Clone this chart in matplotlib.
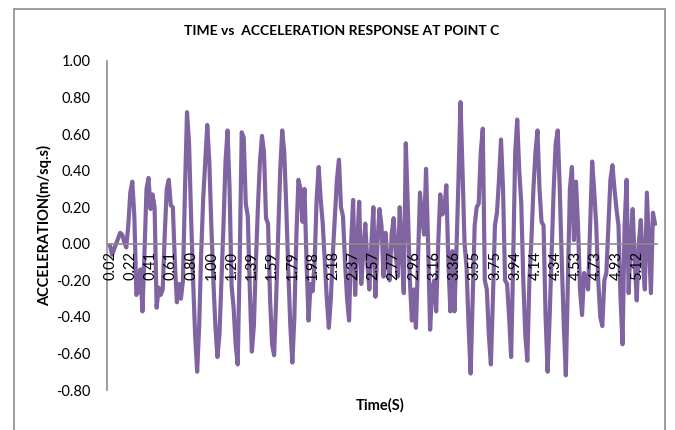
import matplotlib
matplotlib.use("Agg")
import matplotlib.pyplot as plt
from matplotlib.patches import Rectangle

# acceleration values, one per time step (0.02 s ... ~5.2 s)
accel = [
    -0.01, -0.06, -0.03, 0.00, 0.03, 0.06, 0.05, 0.01, -0.02, 0.10,
    0.28, 0.34, 0.15, -0.28, -0.26, -0.14, -0.37, -0.05, 0.30, 0.36,
    0.19, 0.27, 0.20, -0.35, -0.24, -0.28, -0.25, 0.05, 0.30, 0.35,
    0.21, 0.20, -0.10, -0.32, -0.22, -0.30, -0.20, 0.30, 0.72, 0.55,
    0.15, -0.20, -0.50, -0.70, -0.45, -0.05, 0.25, 0.45, 0.65, 0.45,
    0.10, -0.20, -0.45, -0.62, -0.50, -0.20, 0.10, 0.45, 0.62, 0.30,
    -0.23, -0.35, -0.55, -0.66, -0.10, 0.61, 0.58, 0.22, 0.15, -0.25,
    -0.59, -0.45, -0.10, 0.20, 0.45, 0.59, 0.50, 0.14, 0.11, -0.30,
    -0.55, -0.61, -0.30, 0.05, 0.40, 0.62, 0.50, 0.20, -0.15, -0.45,
    -0.65, -0.40, 0.05, 0.35, 0.30, 0.12, 0.30, -0.10, -0.42, -0.22,
    -0.26, -0.10, 0.25, 0.42, 0.24, 0.11, -0.10, -0.30, -0.46, -0.30,
    -0.05, 0.15, 0.35, 0.46, 0.20, 0.15, -0.10, -0.30, -0.42, 0.00,
    0.24, -0.28, 0.00, 0.23, -0.22, -0.05, 0.11, -0.10, -0.25, 0.00,
    0.20, -0.29, 0.00, 0.19, 0.10, -0.18, 0.06, -0.10, -0.20, 0.05,
    0.14, -0.05, -0.18, 0.20, -0.05, -0.27, 0.55, 0.20, -0.20, -0.42,
    -0.25, -0.46, -0.10, 0.28, 0.15, 0.05, 0.41, 0.00, -0.47, -0.25,
    -0.20, -0.37, 0.00, 0.27, 0.16, 0.18, 0.32, -0.10, -0.37, -0.04,
    -0.37, -0.04, 0.35, 0.775, 0.40, 0.00, -0.13, -0.45, -0.71, -0.30,
    0.10, 0.20, 0.22, 0.50, 0.63, -0.20, -0.25, -0.50, -0.66, -0.30,
    0.10, 0.17, 0.35, 0.57, 0.30, -0.20, -0.22, -0.40, -0.62, -0.10,
    0.50, 0.68, 0.40, 0.22, -0.20, -0.50, -0.64, -0.20, 0.02, 0.30,
    0.50, 0.62, 0.30, 0.12, 0.10, -0.40, -0.70, -0.40, -0.05, 0.30,
    0.55, 0.62, 0.30, -0.10, -0.45, -0.72, -0.20, 0.30, 0.42, 0.02,
    0.34, 0.10, -0.25, -0.39, -0.16, -0.20, -0.25, 0.10, 0.45, 0.29,
    0.10, -0.20, -0.40, -0.45, -0.20, -0.16, 0.10, 0.35, 0.43, 0.30,
    0.19, 0.10, -0.30, -0.55, 0.10, 0.35, -0.27, 0.00, 0.19, -0.10,
    -0.31, 0.00, 0.13, -0.10, -0.25, 0.28, 0.00, -0.27, 0.17, 0.11,
]

# category labels shown on the time axis (every 10th sample)
time_labels = ['0.02', '0.22', '0.41', '0.61', '0.80', '1.00', '1.20', '1.39', '1.59',
               '1.79', '1.98', '2.18', '2.37', '2.57', '2.77', '2.96', '3.16', '3.36',
               '3.55', '3.75', '3.94', '4.14', '4.34', '4.53', '4.73', '4.93', '5.12']
y_ticks = [1.0, 0.8, 0.6, 0.4, 0.2, 0.0, -0.2, -0.4, -0.6, -0.8]

plt.rcParams['font.family'] = ['Lato', 'DejaVu Sans']

fig = plt.figure(figsize=(6.75, 4.3), dpi=100)
# chart frame (cut off at the bottom like the screenshot)
fig.patches.append(Rectangle((14 / 675, -0.05), 651 / 675, 1 - 9 / 430 + 0.05,
                             transform=fig.transFigure, fill=False,
                             edgecolor='#8c8c8c', linewidth=1.2))

ax = fig.add_axes([107 / 675, 1 - 390 / 430, 550 / 675, 329 / 430])
# spines first: moving a spine resets the tick objects
for s in ['top', 'right']:
    ax.spines[s].set_visible(False)
ax.spines['bottom'].set_position(('data', 0))
ax.spines['bottom'].set_color('#8c8c8c')
ax.spines['left'].set_color('#8c8c8c')
ax.spines['left'].set_linewidth(1.2)
ax.spines['bottom'].set_linewidth(1.2)
ax.set_axisbelow(False)  # tick labels sit on top of the trace, as in Excel

ax.plot(range(len(accel)), accel, color='#8064A2', linewidth=3.0,
        solid_joinstyle='round', zorder=1)

ax.set_xlim(-1.5, 270)
ax.set_ylim(-0.8, 1.0)
ax.set_yticks(y_ticks)
ax.set_yticklabels(['%.2f' % v for v in y_ticks])
ax.set_xticks(range(0, 10 * len(time_labels), 10))
ax.set_xticklabels(time_labels)
ax.tick_params(axis='y', length=0, pad=12, labelsize=10.5)
ax.tick_params(axis='x', length=0, pad=5, labelsize=10.5, labelrotation=90)

fig.text(342 / 675, 1 - 31 / 430, 'TIME vs  ACCELERATION RESPONSE AT POINT C',
         ha='center', va='center', fontsize=10, fontweight='bold')
fig.text(380 / 675, 1 - 405 / 430, 'Time(S)', ha='center', va='center',
         fontsize=10.5, fontweight='bold')
fig.text(45 / 675, 1 - 226 / 430, 'ACCELERATION(m/sq.s)', ha='center', va='center',
         rotation=90, fontsize=10.5, fontweight='bold')

fig.savefig('out.png', dpi=100)
